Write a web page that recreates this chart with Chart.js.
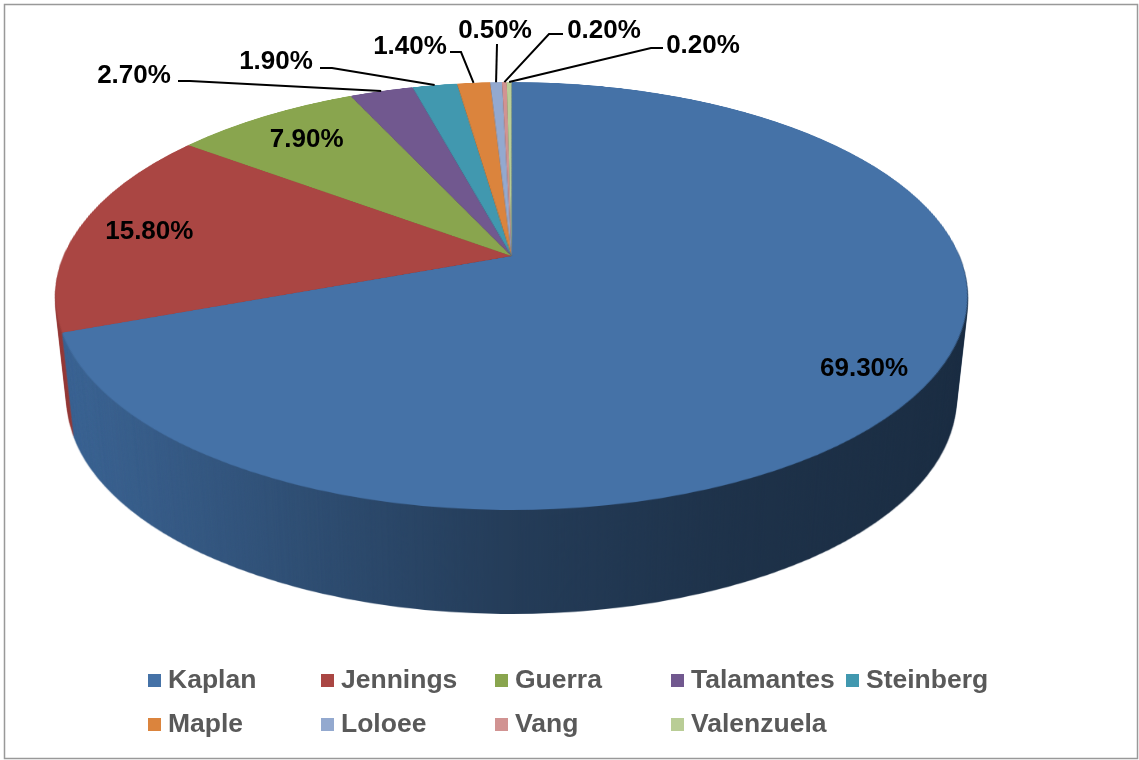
<!DOCTYPE html>
<html>
<head>
<meta charset="utf-8">
<script src="https://cdn.jsdelivr.net/npm/chart.js@4.4.1/dist/chart.umd.min.js"></script>
<style>
  html, body { margin: 0; padding: 0; background: #fff; }
  canvas { display: block; }
</style>
</head>
<body>
<canvas id="pie" width="1139" height="760"></canvas>
<script>
const names = ["Kaplan", "Jennings", "Guerra", "Talamantes", "Steinberg", "Maple", "Loloee", "Vang", "Valenzuela"]
const shares = [69.3, 15.8, 7.9, 2.7, 1.9, 1.4, 0.5, 0.2, 0.2]
const colors = ["#4572A7", "#AA4643", "#89A54E", "#71588F", "#4198AF", "#DB843D", "#93A9CF", "#D19392", "#B9CD96"]

const W = 1139, H = 760
// tilted (perspective) view of the flat pie
const view = { cx: 511.5, cy: 256, a: 448, b: 206.5, k: 0.187, depth: 104, shrink: 0.026 }

// where each percentage goes: r = inside at that fraction of the radius, else text + leader line
const labelPlaces = [
  { r: 0.87 },
  { r: 0.835 },
  { r: 0.81 },
  { x: 134, y: 76, start: [178, 81], elbow: [190, 81] },
  { x: 276, y: 62, start: [320, 68], elbow: [332, 68] },
  { x: 410, y: 47, start: [450, 52], elbow: [461, 52] },
  { x: 495, y: 31, start: [497, 44] },
  { x: 604, y: 31, start: [563, 34], elbow: [549, 34] },
  { x: 703, y: 46, start: [663, 48], elbow: [651, 48] },
]
const legendCols = [148, 321, 495, 671, 846]
const legendRows = [680, 724]

function project(u, v) {
  const d = 1 - view.k * v
  return { x: view.cx + view.a * u / d, y: view.cy + view.b * v / d }
}

const tiltPlugin = {
  id: 'tilt',
  afterDatasetsDraw(chart) {
    const arc = chart.getDatasetMeta(0).data[0]
    const R = arc.outerRadius, px = arc.x, py = arc.y
    const canvas = chart.canvas
    const src = document.createElement('canvas')
    src.width = canvas.width; src.height = canvas.height
    src.getContext('2d').drawImage(canvas, 0, 0)

    // top face, row by row
    const face = document.createElement('canvas')
    face.width = W; face.height = H
    const fctx = face.getContext('2d')
    const top = Math.floor(view.cy - view.b / (1 + view.k)) - 1
    const bottom = Math.ceil(view.cy + view.b / (1 - view.k)) + 1
    for (let y = top; y <= bottom; y++) {
      const dy = y + 0.5 - view.cy
      const v = dy / (view.b + view.k * dy)
      if (v < -1.01 || v > 1.01) continue
      const s = view.a / (1 - view.k * v) / R
      const sy = py + v * R - 0.5
      fctx.drawImage(src, px - R - 2, sy, 2 * R + 4, 1, view.cx - s * (R + 2), y, 2 * s * (R + 2), 1)
    }

    // side wall: stacked copies pushed down, then shaded
    const side = document.createElement('canvas')
    side.width = W; side.height = H
    const sctx = side.getContext('2d')
    for (let i = view.depth; i >= 1; i--) {
      const sc = 1 - view.shrink * i / view.depth
      sctx.drawImage(face, view.cx * (1 - sc), i, W * sc, H)
    }
    sctx.globalCompositeOperation = 'source-atop'
    const g = sctx.createLinearGradient(55, 0, 967, 0)
    g.addColorStop(0, 'rgba(0,0,0,0.1)')
    g.addColorStop(0.3, 'rgba(0,0,0,0.33)')
    g.addColorStop(0.5, 'rgba(0,0,0,0.47)')
    g.addColorStop(0.75, 'rgba(0,0,0,0.56)')
    g.addColorStop(1, 'rgba(0,0,0,0.6)')
    sctx.fillStyle = g
    sctx.fillRect(0, 0, W, H)

    const ctx = chart.ctx
    ctx.save()
    ctx.setTransform(1, 0, 0, 1, 0, 0)
    ctx.clearRect(0, 0, canvas.width, canvas.height)
    ctx.drawImage(side, 0, 0)
    ctx.drawImage(face, 0, 0)
    ctx.restore()
  }
}

const labelPlugin = {
  id: 'labels',
  afterDraw(chart) {
    const ctx = chart.ctx
    const arcs = chart.getDatasetMeta(0).data
    ctx.save()
    ctx.font = 'bold 26px "Liberation Sans", Arial, sans-serif'
    ctx.textAlign = 'center'
    ctx.textBaseline = 'middle'
    ctx.fillStyle = '#000'
    ctx.strokeStyle = '#000'
    ctx.lineWidth = 2
    arcs.forEach((arc, i) => {
      const mid = (arc.startAngle + arc.endAngle) / 2
      const text = shares[i].toFixed(2) + '%'
      const place = labelPlaces[i]
      if (place.r) {
        const p = project(place.r * Math.cos(mid), place.r * Math.sin(mid))
        ctx.fillText(text, p.x, p.y)
      } else {
        const rim = project(Math.cos(mid), Math.sin(mid))
        ctx.beginPath()
        ctx.moveTo(place.start[0], place.start[1])
        if (place.elbow) ctx.lineTo(place.elbow[0], place.elbow[1])
        ctx.lineTo(rim.x, rim.y)
        ctx.stroke()
        ctx.fillText(text, place.x, place.y)
      }
    })

    // legend
    ctx.font = 'bold 26.5px "Liberation Sans", Arial, sans-serif'
    ctx.textAlign = 'left'
    names.forEach((name, i) => {
      const col = i < 5 ? i : i - 5
      const x = legendCols[col], y = legendRows[i < 5 ? 0 : 1]
      ctx.fillStyle = colors[i]
      ctx.fillRect(x, y - 6, 13, 13)
      ctx.fillStyle = '#595959'
      ctx.fillText(name, x + 20, y + 1)
    })

    // outer frame
    ctx.strokeStyle = '#999'
    ctx.lineWidth = 1.5
    ctx.strokeRect(4.5, 4.5, 1133, 754)
    ctx.restore()
  }
}

new Chart(document.getElementById('pie'), {
  type: 'pie',
  data: {
    labels: names,
    datasets: [{ data: shares, backgroundColor: colors, borderWidth: 0 }]
  },
  options: {
    responsive: false,
    animation: false,
    events: [],
    plugins: { legend: { display: false }, tooltip: { enabled: false } }
  },
  plugins: [tiltPlugin, labelPlugin]
})
</script>
</body>
</html>
